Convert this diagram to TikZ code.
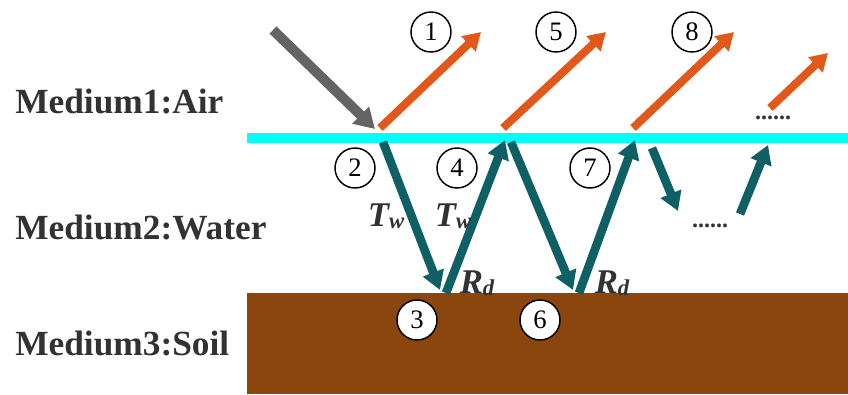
\documentclass[tikz,border=0pt]{standalone}
\usepackage{fontspec}
\setmainfont{Liberation Serif}
\usepackage{xcolor}
\usetikzlibrary{arrows.meta}
\definecolor{airline}{RGB}{0,255,255}
\definecolor{soilbrown}{RGB}{139,70,14}
\definecolor{reflorange}{RGB}{226,88,26}
\definecolor{transteal}{RGB}{14,96,100}
\definecolor{incgray}{RGB}{100,100,100}
\definecolor{labelgray}{RGB}{50,50,50}
\newcommand{\lowsub}[1]{\raisebox{-1.5pt}{\fontsize{17}{19}\selectfont #1}}

\begin{document}
\begin{tikzpicture}[
    x=0.75pt, y=-0.75pt,
    % --- node styles ---
    medium/.style={
      anchor=west, font=\fontsize{26.5}{30}\selectfont\bfseries,
      text=labelgray, inner sep=0pt},
    num/.style={
      circle, draw=black, line width=1.1pt, fill=white,
      minimum size=30pt, inner sep=0pt,
      font=\fontsize{20}{23}\selectfont},
    coef/.style={
      font=\fontsize{26}{30}\selectfont\bfseries\itshape,
      text=labelgray, inner sep=0pt},
    dots/.style={font=\fontsize{18}{20}\selectfont\bfseries, text=labelgray, inner sep=0pt},
    % --- arrow styles ---
    incid/.style={-{Triangle[length=15pt, width=17pt]}, line width=7.5pt, draw=incgray},
    refl/.style={-{Triangle[length=13pt, width=15pt]}, line width=6pt, draw=reflorange},
    trans/.style={-{Triangle[length=14pt, width=16pt]}, line width=6.5pt, draw=transteal},
  ]
  \useasboundingbox (0,0) rectangle (848,394);

  % ============== MEDIA ==============
  \fill[soilbrown] (247,293) rectangle (848,394);
  \draw[airline, line width=7.5pt] (247,138) -- (848,138);

  \node[medium] (air)   at (15,101) {Medium1:Air};
  \node[medium] (water) at (15,227) {Medium2:Water};
  \node[medium] (soil)  at (15,343) {Medium3:Soil};

  % ============== END POINTS ==============
  \coordinate (src)  at (273,30);
  \coordinate (hitA) at (375,129);

  \coordinate (r1s) at (380,128);  \coordinate (r1e) at (481,32);
  \coordinate (r2s) at (503,128);  \coordinate (r2e) at (606,32);
  \coordinate (r3s) at (633,128);  \coordinate (r3e) at (734,32);
  \coordinate (r4s) at (770,108);  \coordinate (r4e) at (828,53);

  \coordinate (t1s) at (383,142);  \coordinate (t1e) at (440,290);
  \coordinate (t2s) at (446,293);  \coordinate (t2e) at (505,140);
  \coordinate (t3s) at (511,142);  \coordinate (t3e) at (573,290);
  \coordinate (t4s) at (579,293);  \coordinate (t4e) at (635,140);
  \coordinate (t5s) at (652,148);  \coordinate (t5e) at (678,211);
  \coordinate (t6s) at (740,214);  \coordinate (t6e) at (768,145);

  % ============== ARROWS ==============
  \draw[incid] (src) -- (hitA);

  \draw[refl] (r1s) -- (r1e);
  \draw[refl] (r2s) -- (r2e);
  \draw[refl] (r3s) -- (r3e);
  \draw[refl] (r4s) -- (r4e);

  \draw[trans] (t1s) -- (t1e);
  \draw[trans] (t2s) -- (t2e);
  \draw[trans] (t3s) -- (t3e);
  \draw[trans] (t4s) -- (t4e);
  \draw[trans] (t5s) -- (t5e);
  \draw[trans] (t6s) -- (t6e);

  % ============== NUMBERS ==============
  \node[num] (n1) at (431,32)  {1};
  \node[num] (n2) at (355,168) {2};
  \node[num] (n3) at (417,320) {3};
  \node[num] (n4) at (457,168) {4};
  \node[num] (n5) at (556,32)  {5};
  \node[num] (n6) at (540,320) {6};
  \node[num] (n7) at (590,168) {7};
  \node[num] (n8) at (692,32)  {8};

  % ============== COEFFICIENTS ==============
  \node[coef] (tw1) at (386,216) {T\lowsub{w}};
  \node[coef] (tw2) at (453,216) {T\lowsub{w}};
  \node[coef] (rd1) at (477,283) {R\lowsub{d}};
  \node[coef] (rd2) at (612,283) {R\lowsub{d}};

  \node[dots] (dotsA) at (773,118) {......};
  \node[dots] (dotsB) at (710,226) {......};

\end{tikzpicture}
\end{document}
